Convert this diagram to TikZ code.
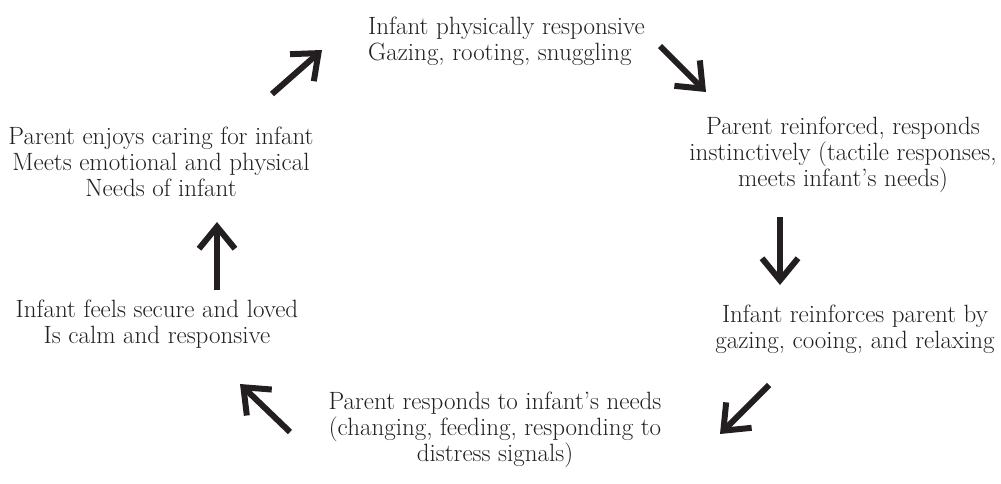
\documentclass[tikz,border=0pt]{standalone}
\usepackage{xcolor}
\usepackage{tikz}
\usetikzlibrary{arrows.meta}
\definecolor{ink}{RGB}{35,31,32}

\begin{document}
\begin{tikzpicture}[x=1pt, y=-1pt,
  txt/.style={text=ink, font=\fontsize{25}{26}\selectfont, inner sep=0pt},
  cyc/.style={draw=ink, line width=6pt,
    -{Straight Barb[length=22pt, width=36pt, line join=miter]}}]
\useasboundingbox (0,0) rectangle (1001,483);

% Étapes du cycle
\node[txt, align=left, anchor=west] (phys) at (368,41) {Infant physically responsive\\Gazing, rooting, snuggling};
\node[txt, align=center] (reinf) at (843,155) {Parent reinforced, responds\\instinctively (tactile responses,\\meets infant's needs)};
\node[txt, align=center] (coo) at (855,329) {Infant reinforces parent by\\gazing, cooing, and relaxing};
\node[txt, align=center] (needs) at (495,430) {Parent responds to infant's needs\\(changing, feeding, responding to\\distress signals)};
\node[txt, align=center] (secure) at (157,324) {Infant feels secure and loved\\Is calm and responsive};
\node[txt, align=center] (enjoy) at (161,162) {Parent enjoys caring for infant\\Meets emotional and physical\\Needs of infant};

% Extrémités des flèches
\coordinate (a1) at (272,94);  \coordinate (b1) at (322,50);
\coordinate (a2) at (660,46);  \coordinate (b2) at (706,92);
\coordinate (a3) at (780,217); \coordinate (b3) at (780,285);
\coordinate (a4) at (769,385); \coordinate (b4) at (720,434);
\coordinate (a5) at (290,432); \coordinate (b5) at (240,384);
\coordinate (a6) at (217,290); \coordinate (b6) at (217,222);

% Flèches du cycle
\draw[cyc] (a1) -- (b1);
\draw[cyc] (a2) -- (b2);
\draw[cyc] (a3) -- (b3);
\draw[cyc] (a4) -- (b4);
\draw[cyc] (a5) -- (b5);
\draw[cyc] (a6) -- (b6);
\end{tikzpicture}
\end{document}
